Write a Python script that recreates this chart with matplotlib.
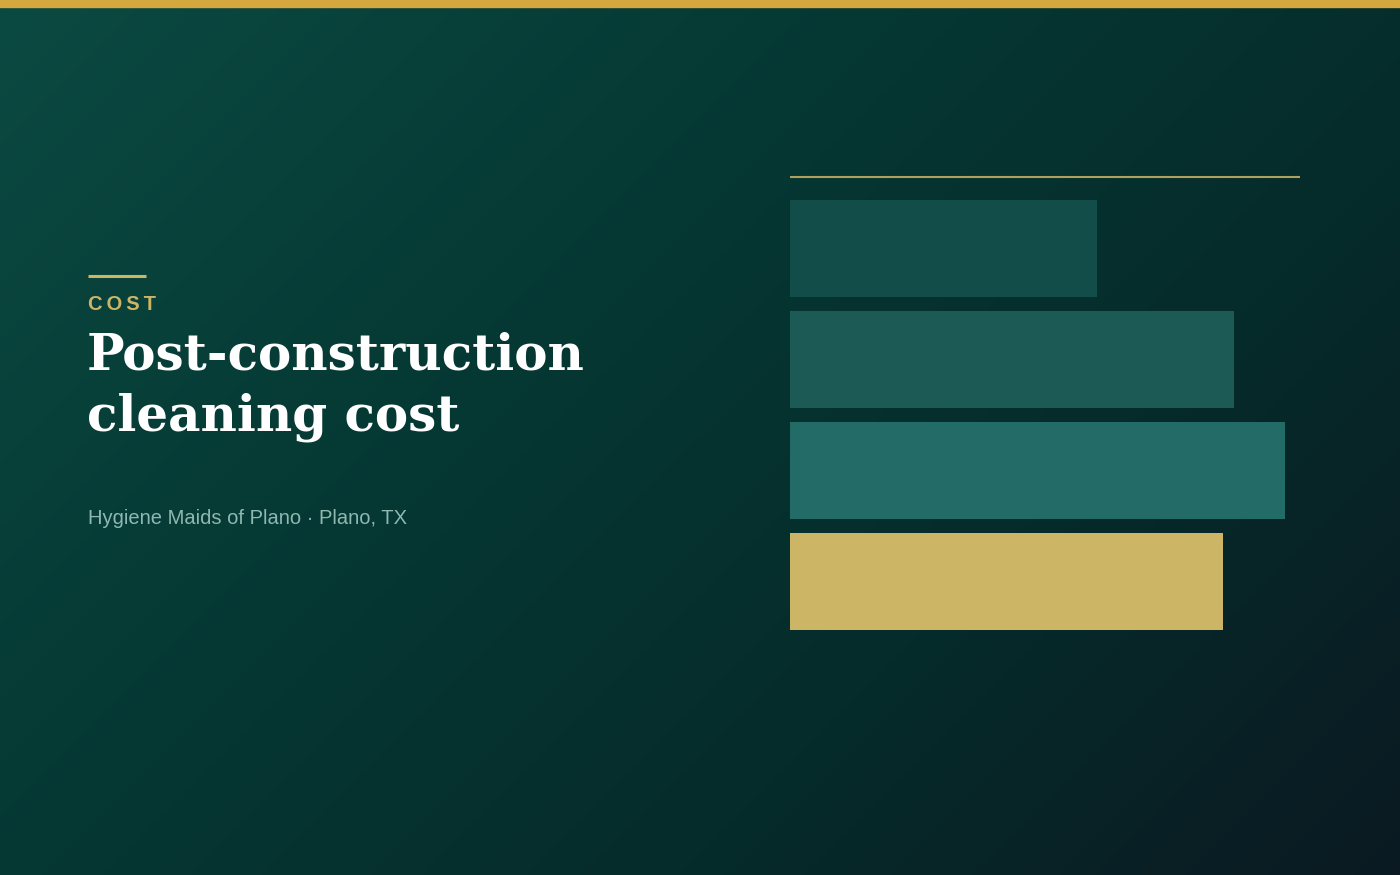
import numpy as np
from matplotlib import pyplot as plt
from matplotlib.colors import LinearSegmentedColormap

# bar values (relative cost, scale 0-100 spans the gold rule)
tiers = ['Light', 'Standard', 'Heavy', 'Hygiene Maids']
values = [60.2, 87.1, 97.1, 84.9]
bar_colors = ['#134d4a', '#1c5a56', '#226b66', '#cdb566']

kicker = 'COST'
title_lines = ['Post-construction', 'cleaning cost']
subtitle = 'Hygiene Maids of Plano \u00b7 Plano, TX'

W, H = 1400, 875
fig = plt.figure(figsize=(W / 100, H / 100), dpi=100)

# diagonal background gradient
bg = fig.add_axes([0, 0, 1, 1])
bg.set_axis_off()
gx, gy = np.meshgrid(np.linspace(0, 1, 400), np.linspace(0, 1, 250))
t = (gx * W + gy * H) / (W + H)
cmap = LinearSegmentedColormap.from_list('bg', ['#0b4a42', '#063a35', '#052c2b', '#0b1a22'])
bg.imshow(t, cmap=cmap, extent=[0, 1, 0, 1], origin='upper', aspect='auto', vmin=0, vmax=1)
bg.set_xlim(0, 1)
bg.set_ylim(0, 1)

# top gold strip
fig.patches.append(plt.Rectangle((0, 1 - 7 / H), 1, 7 / H, transform=fig.transFigure,
                                 color='#d4a83f', zorder=5))

# left accent line + text
fig.add_artist(plt.Line2D([88 / W, 146 / W], [1 - 275.5 / H] * 2, color='#cdb566', lw=2.2,
                          solid_capstyle='butt'))
fig.text(88 / W, 1 - 305 / H, '\u2009'.join(kicker), color='#cdb566', fontsize=14.5,
         fontweight='bold', family=['Liberation Sans', 'DejaVu Sans'], va='center', ha='left')
for line, base in zip(title_lines, [370, 430]):
    fig.text(87 / W, 1 - base / H, line, color='white', fontsize=36, fontweight='bold',
             family='DejaVu Serif', va='baseline', ha='left')
fig.text(88 / W, 1 - 524 / H, subtitle, color='#8fb8b0', fontsize=14.5,
         family='Liberation Sans', va='baseline', ha='left')

# bar chart: 111 px per category step, bars 97 px tall
top_lim, bot_lim = -0.66, 3.5
step = 111
ax_top = 248.5 + top_lim * step
ax_h = (bot_lim - top_lim) * step
ax = fig.add_axes([790 / W, 1 - (ax_top + ax_h) / H, 510 / W, ax_h / H])
ax.set_facecolor('none')
y = np.arange(len(values))
ax.barh(y, values, height=97 / step, color=bar_colors)
ax.set_xlim(0, 100)
ax.set_ylim(bot_lim, top_lim)
ax.axhline(-0.437 - 23 / step, color='#cdb566', lw=1.5, alpha=0.85, clip_on=False,
           solid_capstyle='butt')
ax.set_axis_off()

fig.savefig('out.png', dpi=100)
